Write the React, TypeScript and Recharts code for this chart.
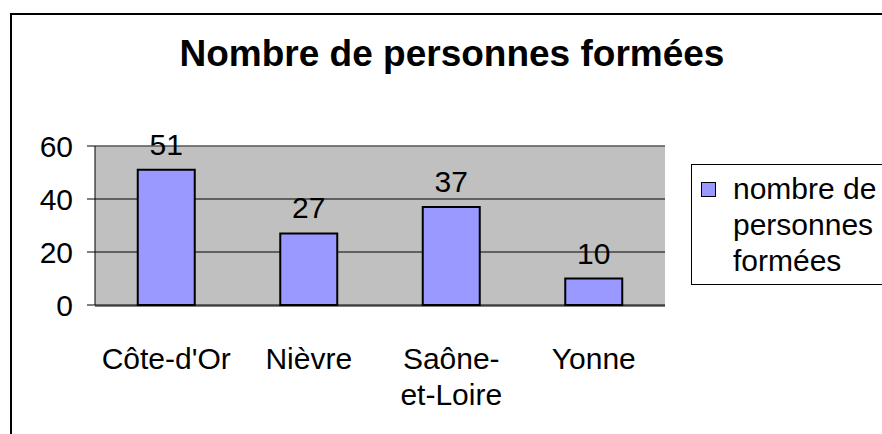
import React from "react";
import {
  BarChart,
  Bar,
  XAxis,
  YAxis,
  CartesianGrid,
  LabelList,
  Legend,
  ReferenceLine,
} from "recharts";

const categories = ["Côte-d'Or", "Nièvre", "Saône-et-Loire", "Yonne"];
const values = [51, 27, 37, 10];
const categoryLines = [["Côte-d'Or"], ["Nièvre"], ["Saône-", "et-Loire"], ["Yonne"]];
const seriesName = "nombre de personnes formées";
const legendLines = ["nombre de", "personnes", "formées"];
const yTicks = [0, 20, 40, 60];
const edgeTicks = [0, 1, 2, 3, 4];
const title = "Nombre de personnes formées";

const data = categories.map((name, i) => ({ name, value: values[i], lines: categoryLines[i] }));

const FONT = "'Liberation Sans', Arial, sans-serif";

const CategoryTick = (props: any) => {
  const { x, y, index } = props;
  const lines = categoryLines[index] || [String(props.payload?.value ?? "")];
  return (
    <text x={x} y={y} textAnchor="middle" fontFamily={FONT} fontSize={30} fill="#000">
      {lines.map((l: string, i: number) => (
        <tspan key={i} x={x} dy={i === 0 ? 64 : 36}>
          {l}
        </tspan>
      ))}
    </text>
  );
};

const LegendBox = () => (
  <div
    style={{
      position: "relative",
      width: 250,
      height: 121,
      border: "1px solid #000",
      background: "#fff",
      boxSizing: "border-box",
    }}
  >
    <svg width={250} height={121} style={{ position: "absolute", left: -1, top: -1 }}>
      <rect x={10.5} y={18.5} width={14} height={14} fill="#9999FF" stroke="#000" strokeWidth={1} />
      <text fontFamily={FONT} fontSize={30} fill="#000">
        {legendLines.map((l, i) => (
          <tspan key={i} x={42} y={35 + i * 36}>
            {l}
          </tspan>
        ))}
      </text>
    </svg>
  </div>
);

export default function App() {
  return (
    <div
      style={{
        position: "absolute",
        left: 0,
        top: 0,
        width: 882,
        height: 434,
        overflow: "hidden",
        background: "#fff",
      }}
    >
      <div
        style={{
          position: "absolute",
          left: 10,
          top: 13,
          width: 900,
          height: 460,
          border: "2px solid #000",
          boxSizing: "border-box",
        }}
      />
      <svg width={882} height={100} style={{ position: "absolute", left: 0, top: 0 }}>
        <text x={452} y={66} textAnchor="middle" fontFamily={FONT} fontSize={37} fontWeight="bold" fill="#000">
          {title}
        </text>
      </svg>
      <div style={{ position: "absolute", left: 0, top: 0 }}>
        <BarChart
          width={882}
          height={434}
          data={data}
          margin={{ top: 146, right: 217, bottom: 127, left: 35 }}
          barCategoryGap="30%"
        >
          <CartesianGrid
            xAxisId="cat"
            vertical={false}
            stroke="#000"
            fill="#C0C0C0"
            fillOpacity={1}
          />
          <XAxis
            xAxisId="edge"
            type="number"
            domain={[0, 4]}
            ticks={edgeTicks}
            allowDataOverflow
            tick={false}
            tickSize={8}
            tickLine={{ stroke: "#000" }}
            axisLine={{ stroke: "#000" }}
            height={1}
          />
          <XAxis
            xAxisId="cat"
            dataKey="name"
            interval={0}
            height={1}
            axisLine={false}
            tickLine={false}
            tickSize={0}
            tickMargin={0}
            tick={<CategoryTick />}
          />
          <YAxis
            type="number"
            domain={[0, 60]}
            ticks={yTicks}
            width={60}
            tickSize={8}
            tickMargin={14}
            tickLine={{ stroke: "#000" }}
            axisLine={{ stroke: "#000" }}
            tick={{ fontSize: 30, fill: "#000", fontFamily: FONT }}
          />
          <ReferenceLine xAxisId="cat" y={60} stroke="#808080" strokeWidth={1} />
          <ReferenceLine xAxisId="edge" x={4} stroke="#808080" strokeWidth={1} />
          <Legend
            layout="vertical"
            align="center"
            verticalAlign="middle"
            wrapperStyle={{ position: "absolute", left: 691, top: 164, width: 250, height: 121 }}
            content={() => <LegendBox />}
          />
          <Bar
            xAxisId="cat"
            dataKey="value"
            name={seriesName}
            fill="#9999FF"
            stroke="#000"
            strokeWidth={2}
            isAnimationActive={false}
          >
            <LabelList
              dataKey="value"
              position="top"
              offset={15}
              fill="#000"
              fontSize={30}
              fontFamily={FONT}
            />
          </Bar>
        </BarChart>
      </div>
    </div>
  );
}
